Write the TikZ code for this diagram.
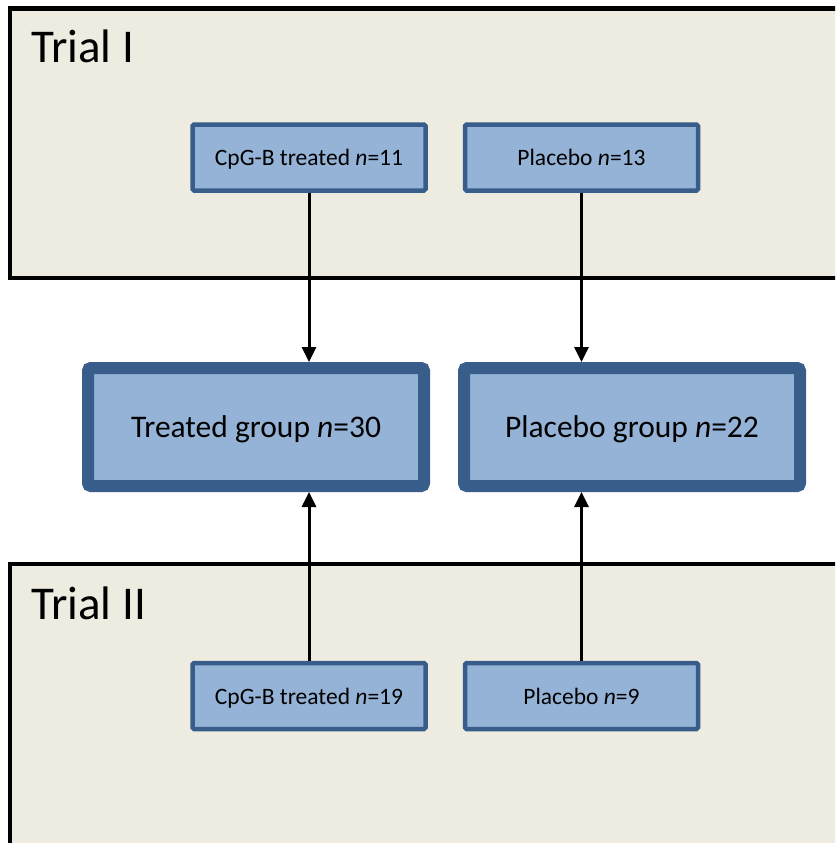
\documentclass[tikz,border=0pt]{standalone}
\usepackage{fontspec}
\setmainfont{Carlito}
\usetikzlibrary{arrows.meta}
\definecolor{trialbg}{HTML}{EEEBE0}
\definecolor{boxfill}{HTML}{95B3D7}
\definecolor{boxline}{HTML}{385D8A}
\tikzset{
  trialbox/.style={draw=black, line width=4.5pt, fill=trialbg},
  smallbox/.style={draw=boxline, line width=4.5pt, fill=boxfill, rounded corners=1.5pt,
    minimum width=233pt, minimum height=66pt, inner sep=0pt, text height=22.3pt, text depth=6.3pt,
    font=\fontsize{23.5}{28}\selectfont},
  bigbox/.style={draw=boxline, line width=12pt, fill=boxfill, rounded corners=3pt,
    minimum width=336pt, minimum height=118pt, inner sep=0pt, text height=30pt, text depth=8.5pt,
    font=\fontsize{31.5}{38}\selectfont},
  triallabel/.style={anchor=base west, inner sep=0pt, font=\fontsize{47}{56}\selectfont},
  conn/.style={line width=3pt, -{Triangle[length=15pt,width=14pt]}}
}
\begin{document}
\begin{tikzpicture}[x=1pt,y=-1pt]
\useasboundingbox (0,0) rectangle (835,843);
\clip (0,0) rectangle (835,843);
\fill[white] (0,0) rectangle (835,843);
% trial frames
\draw[trialbox] (10,8.5) rectangle (860,278);
\draw[trialbox] (10,564) rectangle (860,870);
\node[triallabel] (t1) at (31,63) {Trial I};
\node[triallabel] (t2) at (31,619) {Trial II};
% small boxes
\node[smallbox] (c1) at (309,157.5) {CpG-B treated \textit{n}=11};
\node[smallbox] (p1) at (581.5,157.5) {Placebo \textit{n}=13};
\node[smallbox] (c2) at (309,696) {CpG-B treated \textit{n}=19};
\node[smallbox] (p2) at (581.5,696) {Placebo \textit{n}=9};
% big boxes
\node[bigbox] (tg) at (256,427) {Treated group \textit{n}=30};
\node[bigbox] (pg) at (632,427) {Placebo group \textit{n}=22};
% connectors
\draw[conn] (c1.south) -- (c1.south |- 0,362);
\draw[conn] (p1.south) -- (p1.south |- 0,362);
\draw[conn] (c2.north) -- (c2.north |- 0,492);
\draw[conn] (p2.north) -- (p2.north |- 0,492);
\end{tikzpicture}
\end{document}
